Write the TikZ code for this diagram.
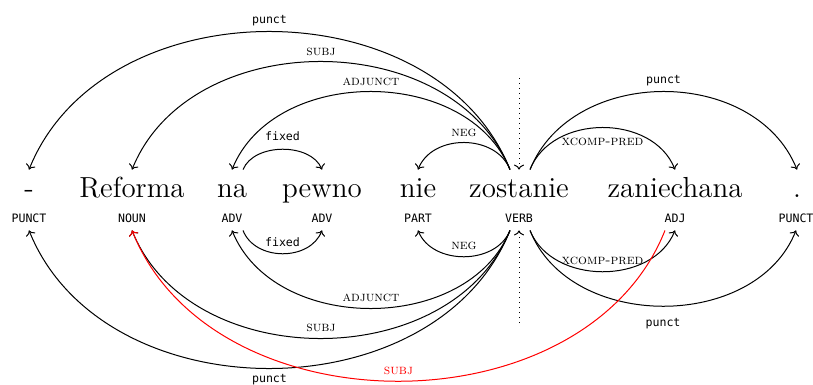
\documentclass[tikz,border=0pt]{standalone}
\usepackage{fontspec}
\setmonofont{DejaVu Sans Mono}
\usetikzlibrary{arrows.meta, calc}

\begin{document}
\begin{tikzpicture}[x=0.5pt, y=-0.5pt,
  word/.style={anchor=base, inner sep=2pt, text height=11.5pt, text depth=0pt, font=\fontsize{14.5}{16}\selectfont},
  tag/.style={anchor=base, inner sep=2pt, text height=4.5pt, text depth=2pt, font=\fontsize{5.8}{7}\ttfamily},
  arc/.style={-{To[length=2.5pt, width=5pt]}, line width=0.5pt},
  rel/.style={font=\fontsize{7}{8}\scshape, inner sep=1pt},
  mono/.style={font=\fontsize{5.8}{7}\ttfamily, inner sep=1pt}]
  \useasboundingbox (0,0) rectangle (813,385);
  % words
  \node[word] (w1) at (29,197) {-};
  \node[word] (w2) at (132,197) {Reforma};
  \node[word] (w3) at (232,197) {na};
  \node[word] (w4) at (322,197) {pewno};
  \node[word] (w5) at (418,197) {nie};
  \node[word] (w6) at (519,197) {zostanie};
  \node[word] (w7) at (675,197) {zaniechana};
  \node[word] (w8) at (797,197) {.};
  % tags
  \node[tag] (t1) at (29,222) {PUNCT};
  \node[tag] (t2) at (132,222) {NOUN};
  \node[tag] (t3) at (232,222) {ADV};
  \node[tag] (t4) at (322,222) {ADV};
  \node[tag] (t5) at (418,222) {PART};
  \node[tag] (t6) at (519,222) {VERB};
  \node[tag] (t7) at (675,222) {ADJ};
  \node[tag] (t8) at (796,222) {PUNCT};
  % root
  \coordinate (roottop) at (519,78);
  \coordinate (rootbot) at (519,323);
  \draw[arc, dotted] (roottop) -- (w6.north);
  \draw[arc, dotted] (rootbot) -- (t6.south);
  % upper arcs
  \draw[arc] ($(w6.north)+(-9,0)$) .. controls +(-74,-184) and +(74,-184) .. (w1.north) node[midway, above=1.5pt, mono] {punct};
  \draw[arc] ($(w6.north)+(-9,0)$) .. controls +(-58,-144) and +(58,-144) .. (w2.north) node[midway, above=1.5pt, rel] {subj};
  \draw[arc] ($(w6.north)+(-9,0)$) .. controls +(-42,-104) and +(42,-104) .. (w3.north) node[midway, above=1.5pt, rel] {adjunct};
  \draw[arc] ($(w6.north)+(-9,0)$) .. controls +(-14,-36) and +(14,-36) .. (w5.north) node[midway, above=1.5pt, rel] {neg};
  \draw[arc] ($(w3.north)+(11,0)$) .. controls +(11,-27) and +(-11,-27) .. (w4.north) node[midway, above=3pt, mono] {fixed};
  \draw[arc] ($(w6.north)+(11,0)$) .. controls +(22,-56) and +(-22,-56) .. (w7.north) node[midway, below=4pt, rel] {xcomp-pred};
  \draw[arc] ($(w6.north)+(11,0)$) .. controls +(42,-104) and +(-42,-104) .. (w8.north) node[midway, above=1.5pt, mono] {punct};
  % lower arcs
  \draw[arc] ($(t6.south)+(-9,0)$) .. controls +(-14,35) and +(14,35) .. (t5.south) node[midway, above=2pt, rel] {neg};
  \draw[arc] ($(t3.south)+(11,0)$) .. controls +(12,31) and +(-12,31) .. (t4.south) node[midway, above=2pt, mono] {fixed};
  \draw[arc] ($(t6.south)+(-9,0)$) .. controls +(-42,104) and +(42,104) .. (t3.south) node[midway, above=2pt, rel] {adjunct};
  \draw[arc] ($(t6.south)+(-9,0)$) .. controls +(-58,144) and +(58,144) .. (t2.south) node[midway, above=2pt, rel] {subj};
  \draw[arc] ($(t6.south)+(-9,0)$) .. controls +(-74,184) and +(74,184) .. (t1.south) node[midway, below=1.5pt, mono] {punct};
  \draw[arc] ($(t6.south)+(11,0)$) .. controls +(22,55) and +(-22,55) .. (t7.south) node[midway, above=2pt, rel] {xcomp-pred};
  \draw[arc] ($(t6.south)+(11,0)$) .. controls +(40,101) and +(-40,101) .. (t8.south) node[midway, below=5pt, mono] {punct};
  % projected subject
  \draw[arc, red] ($(t7.south)+(-10,0)$) .. controls +(-80,201) and +(80,201) .. (t2.south) node[midway, above=2pt, rel] {subj};
\end{tikzpicture}
\end{document}
